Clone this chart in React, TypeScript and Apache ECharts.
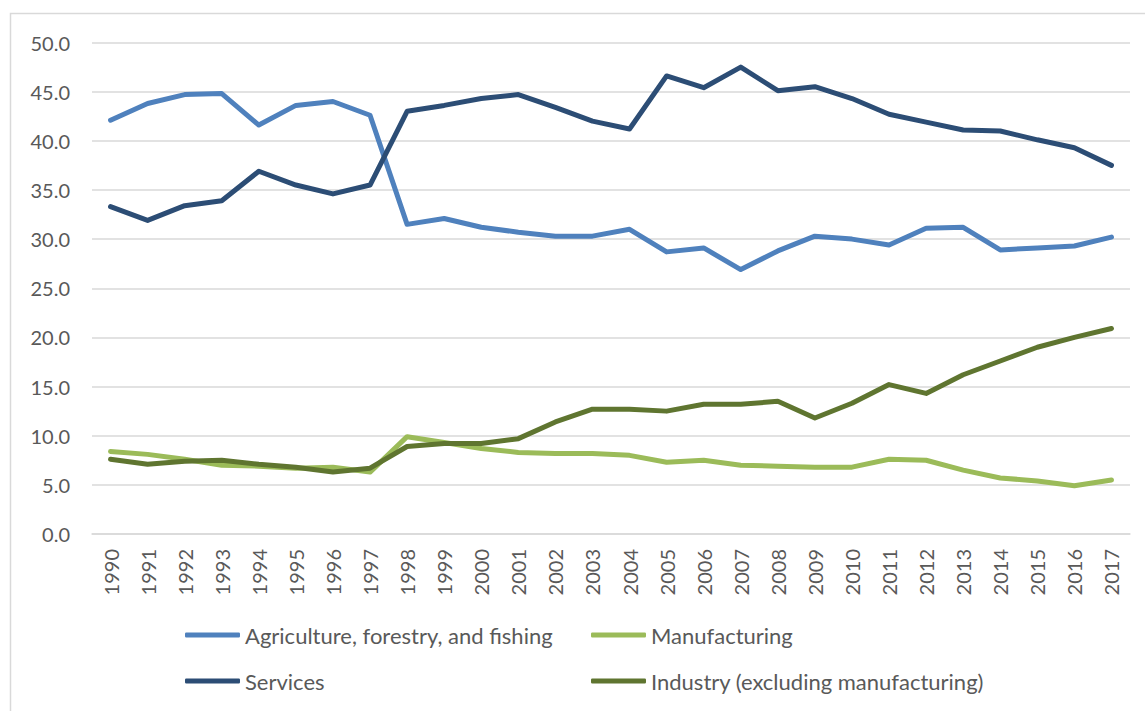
import React, { useEffect, useRef } from "react";
import * as echarts from "echarts";

const years = [
  "1990","1991","1992","1993","1994","1995","1996","1997","1998","1999",
  "2000","2001","2002","2003","2004","2005","2006","2007","2008","2009",
  "2010","2011","2012","2013","2014","2015","2016","2017",
];

const agriculture = [
  42.1, 43.8, 44.7, 44.8, 41.6, 43.6, 44.0, 42.6, 31.5, 32.1,
  31.2, 30.7, 30.3, 30.3, 31.0, 28.7, 29.1, 26.9, 28.8, 30.3,
  30.0, 29.4, 31.1, 31.2, 28.9, 29.1, 29.3, 30.2,
];

const services = [
  33.3, 31.9, 33.4, 33.9, 36.9, 35.5, 34.6, 35.5, 43.0, 43.6,
  44.3, 44.7, 43.4, 42.0, 41.2, 46.6, 45.4, 47.5, 45.1, 45.5,
  44.3, 42.7, 41.9, 41.1, 41.0, 40.1, 39.3, 37.5,
];

const manufacturing = [
  8.4, 8.1, 7.6, 7.0, 6.9, 6.7, 6.8, 6.3, 9.9, 9.3,
  8.7, 8.3, 8.2, 8.2, 8.0, 7.3, 7.5, 7.0, 6.9, 6.8,
  6.8, 7.6, 7.5, 6.5, 5.7, 5.4, 4.9, 5.5,
];

const industry = [
  7.6, 7.1, 7.4, 7.5, 7.1, 6.8, 6.3, 6.7, 8.9, 9.2,
  9.2, 9.7, 11.4, 12.7, 12.7, 12.5, 13.2, 13.2, 13.5, 11.8,
  13.3, 15.2, 14.3, 16.2, 17.6, 19.0, 20.0, 20.9,
];

const seriesNames = [
  "Agriculture, forestry, and fishing",
  "Manufacturing",
  "Services",
  "Industry (excluding manufacturing)",
];

const colors = ["#4F81BD", "#9BBB59", "#2C4D75", "#5F7530"];

const FONT = "Lato";
const TEXT = "#595959";

export default function App() {
  const ref = useRef<HTMLDivElement>(null);

  useEffect(() => {
    if (!ref.current) return;
    const chart = echarts.init(ref.current, undefined, { renderer: "svg" });
    const dataArr = [agriculture, manufacturing, services, industry];

    const legendPos = [
      { left: 185, top: 624 },
      { left: 591, top: 624 },
      { left: 185, top: 670 },
      { left: 591, top: 670 },
    ];

    chart.setOption({
      animation: false,
      backgroundColor: "#ffffff",
      textStyle: { fontFamily: FONT },
      graphic: [
        {
          type: "rect",
          shape: { x: 10.5, y: 13.5, width: 1200, height: 800 },
          style: { fill: "none", stroke: "#d9d9d9", lineWidth: 1.5 },
          silent: true,
        },
      ],
      grid: { left: 92, right: 15, top: 42.5, bottom: 177, containLabel: false },
      xAxis: {
        type: "category",
        data: years,
        boundaryGap: true,
        axisLine: { show: true, lineStyle: { color: "#d9d9d9", width: 1.5 } },
        axisTick: { show: false },
        axisLabel: {
          rotate: 90,
          interval: 0,
          color: TEXT,
          fontFamily: FONT,
          fontSize: 20,
          margin: 15,
        },
      },
      yAxis: {
        type: "value",
        min: 0,
        max: 50,
        interval: 5,
        axisLine: { show: false },
        axisTick: { show: false },
        splitLine: { lineStyle: { color: "#d9d9d9", width: 1.5 } },
        axisLabel: {
          color: TEXT,
          fontFamily: FONT,
          fontSize: 20,
          margin: 22,
          formatter: (v: number) => v.toFixed(1),
        },
      },
      legend: seriesNames.map((n, i) => ({
        data: [n],
        left: legendPos[i].left,
        top: legendPos[i].top,
        icon: "roundRect",
        itemWidth: 55,
        itemHeight: 5,
        padding: 0,
        textStyle: { color: TEXT, fontFamily: FONT, fontSize: 22 },
        selectedMode: false,
      })),
      series: seriesNames.map((n, i) => ({
        name: n,
        type: "line",
        data: dataArr[i],
        symbol: "none",
        lineStyle: { color: colors[i], width: 5, cap: "round", join: "round" },
        itemStyle: { color: colors[i] },
        z: i === 0 ? 3 : i === 2 ? 4 : i === 1 ? 2 : 5,
      })),
    });

    return () => chart.dispose();
  }, []);

  return (
    <div
      ref={ref}
      style={{ position: "fixed", left: 0, top: 0, width: 1145, height: 711 }}
    />
  );
}
